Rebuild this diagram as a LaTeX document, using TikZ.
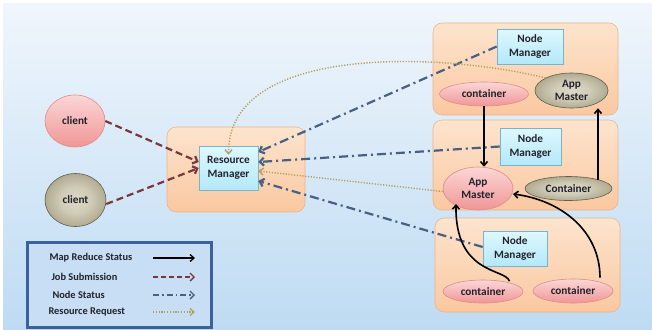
\documentclass[tikz,border=0pt]{standalone}
\usepackage{fontspec}
\setmainfont{Carlito}
\usetikzlibrary{arrows.meta,shapes.geometric}

\definecolor{bgtop}{RGB}{240,246,252}
\definecolor{bgbot}{RGB}{190,219,243}
\definecolor{hosttop}{RGB}{253,228,206}
\definecolor{hostbot}{RGB}{250,200,160}
\definecolor{hostedge}{RGB}{236,180,140}
\definecolor{mgrtop}{RGB}{222,248,255}
\definecolor{mgrbot}{RGB}{180,232,248}
\definecolor{mgredge}{RGB}{120,180,205}
\definecolor{pinktop}{RGB}{252,214,214}
\definecolor{pinkbot}{RGB}{240,150,150}
\definecolor{pinkedge}{RGB}{222,140,140}
\definecolor{grayedge}{RGB}{100,95,76}
\definecolor{jobcol}{RGB}{122,56,60}
\definecolor{nodecol}{RGB}{72,96,130}
\definecolor{reqcol}{RGB}{180,160,96}
\definecolor{legfill}{RGB}{200,222,244}
\definecolor{legedge}{RGB}{58,96,158}
\definecolor{txt}{RGB}{34,34,44}

% light centre fading to an olive-grey rim at the ellipse edge
\pgfdeclareradialshading{olivegray}{\pgfpoint{0bp}{0bp}}{%
  rgb(0bp)=(0.86,0.85,0.78);
  rgb(12bp)=(0.82,0.80,0.72);
  rgb(24bp)=(0.70,0.68,0.58);
  rgb(34bp)=(0.52,0.50,0.40);
  rgb(50bp)=(0.38,0.36,0.28)}

\begin{document}
\begin{tikzpicture}[x=1bp,y=-1bp,
  lbl/.style={font=\bfseries\fontsize{11.3}{13.5}\selectfont, text=txt, align=center},
  host/.style={draw=hostedge, line width=0.6bp, rounded corners=9bp,
    top color=hosttop, bottom color=hostbot, inner sep=0},
  mgr/.style={lbl, rectangle, draw=mgredge, line width=0.6bp,
    top color=mgrtop, bottom color=mgrbot, inner sep=0},
  pinkell/.style={lbl, ellipse, draw=pinkedge, line width=0.6bp,
    top color=pinktop, bottom color=pinkbot, inner sep=0},
  grayell/.style={lbl, ellipse, draw=grayedge, line width=0.6bp,
    shading=olivegray, inner sep=0},
  mrs/.style={draw=black, line width=1.6bp,
    -{Straight Barb[length=4bp,width=7bp]}},
  jobsub/.style={draw=jobcol, line width=2.2bp, dash pattern=on 7bp off 4bp,
    -{Straight Barb[length=4bp,width=8bp]}},
  nodestat/.style={draw=nodecol, line width=2.2bp,
    dash pattern=on 9bp off 4bp on 2bp off 4bp,
    -{Straight Barb[length=4bp,width=8bp]}},
  resreq/.style={draw=reqcol, line width=1.4bp, dash pattern=on 1.2bp off 1.6bp,
    -{Straight Barb[length=4bp,width=7bp]}},
  legtext/.style={font=\bfseries\fontsize{10.4}{12}\selectfont, text=txt, anchor=west}
]
\useasboundingbox (0,0) rectangle (652,329);
\fill[white] (0,0) rectangle (652,329);
\shade[top color=bgtop, bottom color=bgbot] (3,3) rectangle (652,329);

% hosts
\node[host, minimum width=138bp, minimum height=85bp] (rmhost) at (236,169.5) {};
\node[host, minimum width=185bp, minimum height=92bp] (host1) at (525.5,69) {};
\node[host, minimum width=185bp, minimum height=90bp] (host2) at (525.5,165) {};
\node[host, minimum width=185bp, minimum height=94bp] (host3) at (527.5,265) {};

% managers
\node[mgr, minimum width=59bp, minimum height=44bp] (rm) at (228.5,168) {Resource\\Manager};
\node[mgr, minimum width=66bp, minimum height=35bp] (nm1) at (530,46.5) {Node\\Manager};
\node[mgr, minimum width=61bp, minimum height=37bp] (nm2) at (530.5,146.5) {Node\\Manager};
\node[mgr, minimum width=64bp, minimum height=35bp] (nm3) at (515,248.5) {Node\\Manager};

% clients
\node[pinkell, minimum width=60bp, minimum height=52bp] (client1) at (75,121) {client};
\node[grayell, minimum width=61bp, minimum height=53bp] (client2) at (75.5,200) {client};

% containers and application masters
\node[pinkell, minimum width=89bp, minimum height=24bp] (cont1) at (484,94) {container};
\node[grayell, minimum width=73bp, minimum height=35bp] (am1) at (571.5,90.5) {App\\Master};
\node[pinkell, minimum width=70bp, minimum height=43bp] (am2) at (478,188.5) {App\\Master};
\node[grayell, minimum width=87bp, minimum height=24bp] (cont2) at (568.5,188.5) {Container};
\node[pinkell, minimum width=80bp, minimum height=23bp] (cont3) at (483,291.5) {container};
\node[pinkell, minimum width=80bp, minimum height=24bp] (cont4) at (573,291) {container};

% job submission
\draw[jobsub] (client1.east) -- (rm.west |- 0,162);
\draw[jobsub] ([yshift=-4bp]client2.east) -- (rm.west |- 0,168);

% node status
\draw[nodestat] (nm1.west) -- (rm.east |- 0,152);
\draw[nodestat] (nm2.west) -- (rm.east |- 0,162);
\draw[nodestat] ([yshift=1.5bp]nm3.west) -- (rm.east |- 0,181);

% resource requests
\draw[resreq] (am1.north west) .. controls (440,52) and (228,44) .. ([yshift=-9bp]rm.north);
\draw[resreq] ([yshift=-3bp]am2.west) -- (rm.east |- 0,171);

% map reduce status
\draw[mrs] (cont1.south) -- (am2.north -| cont1.south);
\coordinate (c2top) at (598,180);
\draw[mrs] (c2top) -- (am1.south -| c2top);
\draw[mrs] (cont3.north east) ++(-2bp,2bp) .. controls (505,268) and (455,275) .. (456,204);
\draw[mrs] ([xshift=27bp,yshift=1bp]cont4.north) .. controls (600,230) and (560,200) .. (513,194);

% legend
\node[draw=legedge, line width=3bp, fill=legfill, minimum width=184bp,
  minimum height=85bp, inner sep=0] (legend) at (119.5,284.5) {};
\node[legtext] (l1) at (46,258) {Map Reduce Status};
\node[legtext] (l2) at (48,277) {Job Submission};
\node[legtext] (l3) at (49,295) {Node Status};
\node[legtext] (l4) at (45,312) {Resource Request};
\coordinate (a1s) at (153,258); \coordinate (a1e) at (195,258);
\coordinate (a2s) at (153,277); \coordinate (a2e) at (195,277);
\coordinate (a3s) at (153,295); \coordinate (a3e) at (195,295);
\coordinate (a4s) at (153,312); \coordinate (a4e) at (195,312);
\draw[mrs, line width=1.3bp] (a1s) -- (a1e);
\draw[jobsub, line width=1.4bp, dash pattern=on 5bp off 3bp] (a2s) -- (a2e);
\draw[nodestat, line width=1.4bp, dash pattern=on 6bp off 3bp on 1.5bp off 3bp] (a3s) -- (a3e);
\draw[resreq, line width=1.3bp] (a4s) -- (a4e);
\end{tikzpicture}
\end{document}
